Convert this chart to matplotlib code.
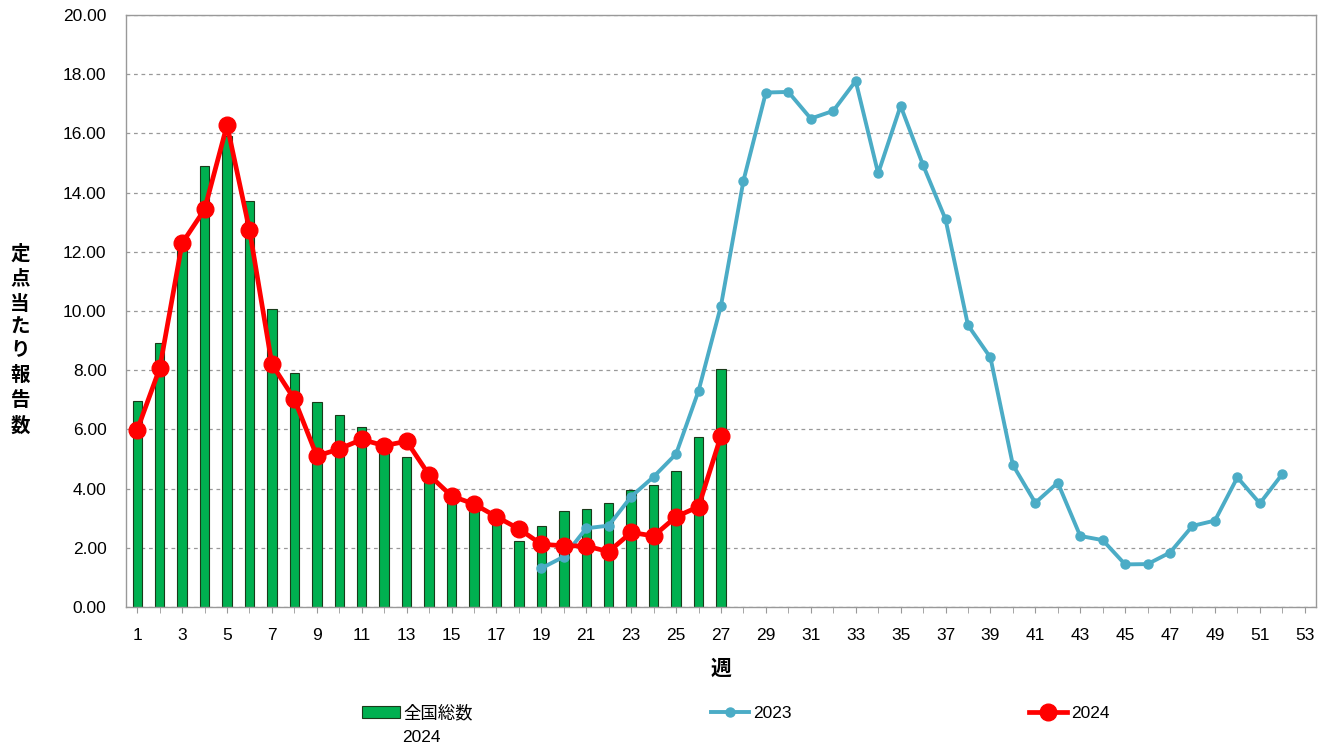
import numpy as np
import matplotlib
matplotlib.use('Agg')
import matplotlib.pyplot as plt

plt.rcParams['font.family'] = ['Liberation Sans', 'Noto Sans CJK JP', 'DejaVu Sans']

# 全国総数 2024 (bars), weeks 1-27
weeks_2024 = list(range(1, 28))
total_2024 = [6.95, 8.93, 12.1, 14.9, 15.9, 13.73, 10.07, 7.92, 6.94, 6.50,
              6.09, 5.45, 5.06, 4.3, 3.56, 3.3, 2.85, 2.23, 2.75, 3.25,
              3.32, 3.50, 3.95, 4.12, 4.58, 5.74, 8.04]

# 2024 line
line_2024 = [5.98, 8.06, 12.29, 13.43, 16.28, 12.74, 8.2, 7.02, 5.1, 5.34,
             5.66, 5.45, 5.6, 4.46, 3.75, 3.48, 3.05, 2.64, 2.12, 2.07,
             2.06, 1.87, 2.52, 2.40, 3.05, 3.39, 5.78]

# 2023 line, weeks 19-52
weeks_2023 = list(range(19, 53))
line_2023 = [1.31, 1.70, 2.66, 2.75, 3.73, 4.40, 5.17, 7.30, 10.18, 14.40,
             17.38, 17.40, 16.5, 16.76, 17.77, 14.65, 16.93, 14.93, 13.1, 9.52,
             8.43, 4.80, 3.52, 4.2, 2.40, 2.26, 1.44, 1.45, 1.84, 2.74,
             2.92, 4.38, 3.50, 4.49]

fig = plt.figure(figsize=(13.29, 7.45), dpi=100)
ax = fig.add_axes([0.0948, 0.1852, 0.8954, 0.7947])

bars = ax.bar(weeks_2024, total_2024, width=0.42, color='#00B050',
              edgecolor='#1a3a1a', linewidth=0.8, label='全国総数', zorder=2)
l23, = ax.plot(weeks_2023, line_2023, color='#4BACC6', lw=2.8, marker='o',
               markersize=6.5, label='2023', zorder=3)
l24, = ax.plot(weeks_2024, line_2024, color='#FF0000', lw=3.4, marker='o',
               markersize=12, label='2024', zorder=4)

ax.set_xlim(0.5, 53.5)
ax.set_ylim(0, 20)
ax.set_yticks(np.arange(0, 20.01, 2))
ax.set_yticklabels([f'{v:.2f}' for v in np.arange(0, 20.01, 2)], fontsize=12.5)
ax.set_xticks(range(1, 54, 2))
ax.set_xticklabels([str(w) for w in range(1, 54, 2)], fontsize=12.5)
ax.set_xticks(range(1, 54), minor=True)
ax.tick_params(axis='x', which='both', direction='out', length=4, color='#999999')
ax.tick_params(axis='y', length=0, pad=14)
ax.tick_params(axis='x', which='major', pad=11)

ax.grid(axis='y', linestyle=(0, (3, 3)), color='#999999', lw=0.9, zorder=0)
for s in ax.spines.values():
    s.set_color('#999999')
    s.set_linewidth(1.0)

fig.text(20 / 1329, 1 - 340 / 745, '定\n点\n当\nた\nり\n報\n告\n数',
         fontsize=14, fontweight='bold', ha='center', va='center',
         linespacing=1.42)
ax.set_xlabel('週', fontsize=15, fontweight='bold', labelpad=12)

fig.legend(handles=[bars, l23, l24], loc='center left',
           bbox_to_anchor=(355 / 1329, 1 - 713 / 745), ncol=3, frameon=False,
           fontsize=12.5, handlelength=2.2, handletextpad=0.2,
           columnspacing=13.7, borderaxespad=0)
fig.text(402 / 1329, 1 - 737 / 745, '2024', fontsize=12.5, ha='left', va='center')

fig.savefig('out.png', dpi=100)
